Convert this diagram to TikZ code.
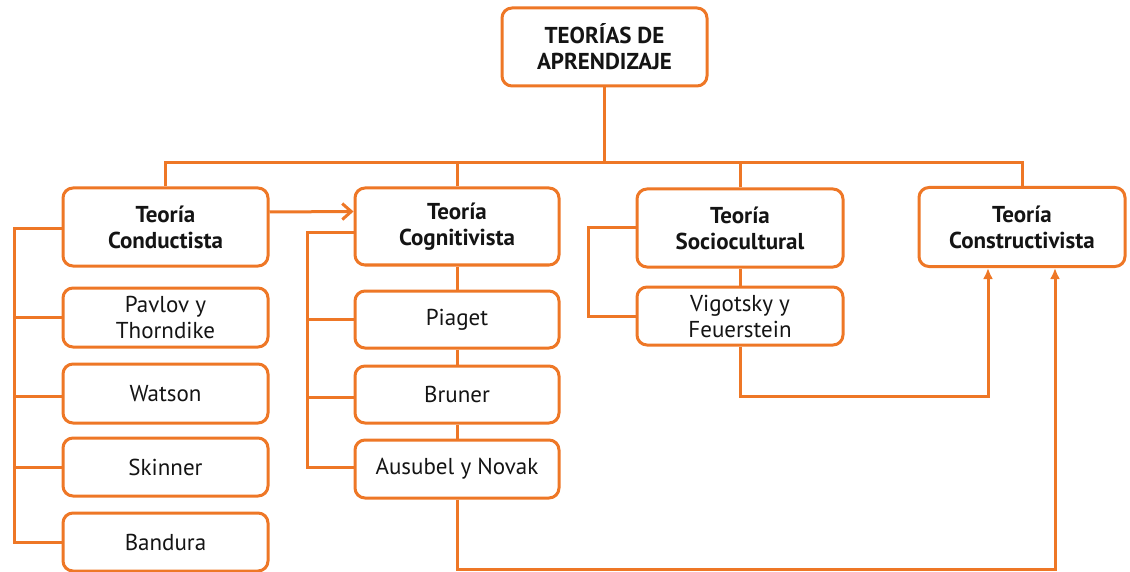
\documentclass[tikz,border=0pt]{standalone}
\usepackage{fontspec}
\setmainfont{PT Sans}
\usetikzlibrary{arrows.meta}
\definecolor{org}{RGB}{238,119,38}
\definecolor{txt}{RGB}{20,20,20}
\tikzset{
  box/.style={draw=org, line width=3pt, rounded corners=10pt, fill=white, inner sep=0pt,
    align=center, text=txt, minimum width=205pt, font=\fontsize{23}{26}\selectfont},
  head/.style={box, font=\fontsize{23}{26}\selectfont\bfseries},
  ln/.style={draw=org, line width=3pt},
  arr/.style={ln, -{Straight Barb[length=9pt,width=16pt,line width=3pt]}},
  arrup/.style={ln, -{Latex[length=11pt,width=10pt]}},
}
\begin{document}
\begin{tikzpicture}[x=1pt,y=-1pt]
\useasboundingbox (0,0) rectangle (1130,572);
% top
\node[head, minimum height=78pt] (top) at (604.5,47) {TEORÍAS DE\\APRENDIZAJE};
% row of theories
\node[head, minimum height=78pt] (cond) at (165.5,227) {Teoría\\Conductista};
\node[head, minimum height=77pt, minimum width=204pt] (cog) at (457,226.5) {Teoría\\Cognitivista};
\node[head, minimum height=78pt, minimum width=206pt] (soc) at (740,228) {Teoría\\Sociocultural};
\node[head, minimum height=79pt, minimum width=206pt] (cons) at (1022,227) {Teoría\\Constructivista};
% conductista children
\node[box, minimum height=59pt] (pav) at (165.5,317.5) {Pavlov y\\Thorndike};
\node[box, minimum height=59pt] (wat) at (165.5,393.5) {Watson};
\node[box, minimum height=58pt] (ski) at (165.5,467) {Skinner};
\node[box, minimum height=58pt] (ban) at (165.5,542) {Bandura};
% cognitivista children
\node[box, minimum height=57pt, minimum width=204pt] (pia) at (457,319.5) {Piaget};
\node[box, minimum height=57pt, minimum width=204pt] (bru) at (457,394.5) {Bruner};
\node[box, minimum height=58pt, minimum width=204pt] (aus) at (457,469) {Ausubel y Novak};
% sociocultural child
\node[box, minimum height=58pt, minimum width=206pt] (vig) at (740,316) {Vigotsky y\\Feuerstein};
% helper coordinates
\coordinate (bar) at (0,163);
\coordinate (lb1) at (14,0);
\coordinate (lb2) at (307,0);
\coordinate (lb3) at (588,0);
\coordinate (v1) at (988,396);
\coordinate (v2) at (1055,569);
% top-level tree
\draw[ln] (top.south) -- (top.south |- bar);
\draw[ln] (cond.north) -- (cond.north |- bar) -| (cons.north);
\draw[ln] (cog.north) -- (cog.north |- bar);
\draw[ln] (soc.north) -- (soc.north |- bar);
% arrow conductista -> cognitivista
\draw[arr] ([yshift=15pt]cond.east) -- ([yshift=15pt]cog.west);
% conductista bracket
\draw[ln] ([yshift=-2pt]cond.west) -- ([yshift=-2pt]cond.west -| lb1) -- (ban.west -| lb1) -- (ban.west);
\draw[ln] (pav.west -| lb1) -- (pav.west);
\draw[ln] ([yshift=-3pt]wat.west -| lb1) -- ([yshift=-3pt]wat.west);
\draw[ln] (ski.west -| lb1) -- (ski.west);
% cognitivista bracket and spine
\draw[ln] ([yshift=-6pt]cog.west) -- ([yshift=-6pt]cog.west -| lb2) -- ([yshift=2pt]aus.west -| lb2) -- ([yshift=2pt]aus.west);
\draw[ln] (pia.west -| lb2) -- (pia.west);
\draw[ln] ([yshift=-3pt]bru.west -| lb2) -- ([yshift=-3pt]bru.west);
\draw[ln] (cog.south) -- (pia.north);
\draw[ln] (pia.south) -- (bru.north);
\draw[ln] (bru.south) -- (aus.north);
% sociocultural bracket and spine
\draw[ln] (soc.west) -- (soc.west -| lb3) -- (vig.west -| lb3) -- (vig.west);
\draw[ln] (soc.south) -- (vig.north);
% links to constructivista
\draw[arrup] (vig.south) |- (v1) -- (cons.south -| v1);
\draw[arrup] (aus.south) |- (v2) -- (cons.south -| v2);
\end{tikzpicture}
\end{document}
